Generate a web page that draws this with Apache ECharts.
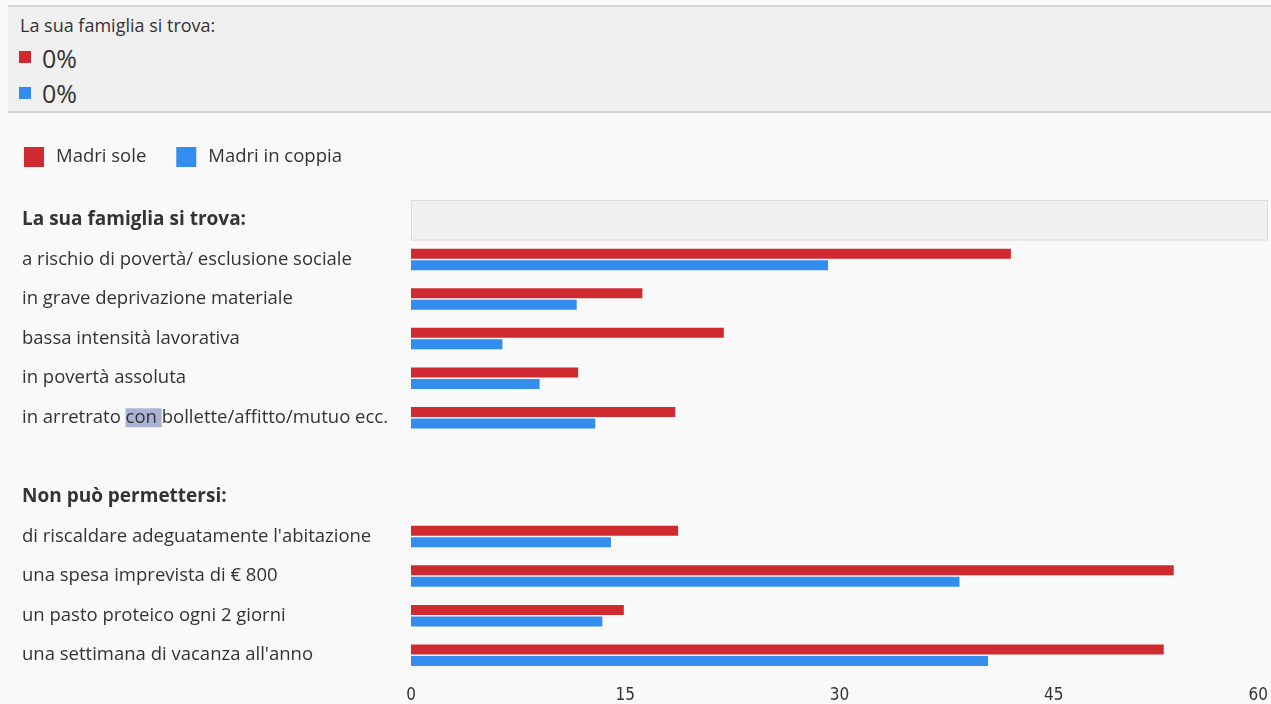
<!DOCTYPE html>
<html>
<head>
<meta charset="utf-8">
<script src="https://cdn.jsdelivr.net/npm/echarts@6/dist/echarts.min.js"></script>
<style>
html,body{margin:0;padding:0;background:#f9f9f9;width:1271px;height:704px;overflow:hidden;font-family:'Open Sans',sans-serif;}
#chart{position:absolute;left:0;top:0;width:1271px;height:704px;}
#panel{position:absolute;left:8px;top:5px;width:1263px;height:108px;box-sizing:border-box;border-top:2px solid #d4d4d4;border-bottom:2px solid #d4d4d4;background:#f0f0f0;color:#333;}
#panel .t{position:absolute;left:12px;top:7px;font-size:18px;line-height:22px;white-space:nowrap;}
#panel .sq{position:absolute;left:11px;width:12px;height:12px;}
#panel .v{position:absolute;left:34px;font-size:25px;line-height:30px;white-space:nowrap;}
</style>
</head>
<body>
<div id="chart"></div>
<div id="panel"></div>
<script>
const categories = [
  'La sua famiglia si trova:',
  'a rischio di povertà/ esclusione sociale',
  'in grave deprivazione materiale',
  'bassa intensità lavorativa',
  'in povertà assoluta',
  'in arretrato con bollette/affitto/mutuo ecc.',
  '',
  'Non può permettersi:',
  "di riscaldare adeguatamente l'abitazione",
  'una spesa imprevista di € 800',
  'un pasto proteico ogni 2 giorni',
  "una settimana di vacanza all'anno"
];
const headers = ['La sua famiglia si trova:', 'Non può permettersi:'];
const seriesNames = ['Madri sole', 'Madri in coppia'];
const seriesColors = ['#cf2a30', '#338dee'];
const madriSole   = [null, 42.0, 16.2, 21.9, 11.7, 18.5, null, null, 18.7, 53.4, 14.9, 52.7];
const madriCoppia = [null, 29.2, 11.6, 6.4, 9.0, 12.9, null, null, 14.0, 38.4, 13.4, 40.4];
const xTicks = [0, 15, 30, 45, 60];
const hoverCategory = 'La sua famiglia si trova:';
const hoverValues = ['0%', '0%'];

// tooltip-like info panel (static)
const panel = document.getElementById('panel');
panel.innerHTML = '<div class="t">' + hoverCategory + '</div>' +
  '<div class="sq" style="top:44px;background:' + seriesColors[0] + '"></div>' +
  '<div class="v" style="top:36px">' + hoverValues[0] + '</div>' +
  '<div class="sq" style="top:80px;background:' + seriesColors[1] + '"></div>' +
  '<div class="v" style="top:71px">' + hoverValues[1] + '</div>';

const chart = echarts.init(document.getElementById('chart'), null, {renderer: 'canvas'});
const FONT = "'Open Sans', sans-serif";
const option = {
  backgroundColor: '#f9f9f9',
  animation: false,
  textStyle: {fontFamily: FONT},
  legend: {
    left: 24, top: 147, padding: 0,
    itemWidth: 20, itemHeight: 20, itemGap: 30,
    icon: 'rect',
    data: seriesNames,
    textStyle: {fontSize: 18.5, color: '#333', fontFamily: FONT, padding: [0, 0, 0, 7]}
  },
  grid: {left: 411, right: 0, top: 200, bottom: 28, containLabel: false},
  xAxis: {
    type: 'value', min: xTicks[0], max: xTicks[xTicks.length - 1], interval: xTicks[1] - xTicks[0],
    axisLine: {show: false}, axisTick: {show: false}, splitLine: {show: false},
    axisLabel: {
      margin: 12, fontSize: 17, color: '#333', alignMaxLabel: 'right',
      fontFamily: "'Liberation Sans Narrow', 'DejaVu Sans Condensed', sans-serif"
    }
  },
  yAxis: {
    type: 'category', inverse: true, data: categories,
    axisLine: {show: false}, axisTick: {show: false}, splitLine: {show: false},
    axisLabel: {
      align: 'left', margin: 389, fontSize: 18.5, color: '#333', lineHeight: 20, fontFamily: FONT,
      formatter: function (v) {
        if (headers.indexOf(v) >= 0) return '{h|' + v + '}';
        if (v.indexOf('arretrato con ') >= 0) return v.replace('con ', '{s|con }');
        return v;
      },
      rich: {
        h: {fontWeight: 'bold', fontSize: 19, color: '#333', lineHeight: 20, fontFamily: FONT},
        s: {backgroundColor: '#abb4d6', fontSize: 18.5, color: '#333', lineHeight: 20, fontFamily: FONT}
      }
    }
  },
  series: [
    {
      type: 'custom', silent: true, z: 1,
      data: [[xTicks[xTicks.length - 1], categories.indexOf(hoverCategory)]],
      renderItem: function (params, api) {
        const end = api.coord([api.value(0), api.value(1)]);
        const start = api.coord([0, api.value(1)]);
        const h = api.size([0, 1])[1];
        return {
          type: 'rect',
          shape: {x: start[0] + 0.5, y: start[1] - h / 2 + 0.5, width: end[0] - start[0] - 1, height: h},
          style: {fill: '#f0f0f0', stroke: '#dcdcdc', lineWidth: 1}
        };
      }
    },
    {name: seriesNames[0], type: 'bar', z: 2, data: madriSole, barWidth: 10, barGap: '15%',
     itemStyle: {color: seriesColors[0]}},
    {name: seriesNames[1], type: 'bar', z: 2, data: madriCoppia, barWidth: 10, barGap: '15%',
     itemStyle: {color: seriesColors[1]}}
  ]
};
chart.setOption(option);
</script>
</body>
</html>
